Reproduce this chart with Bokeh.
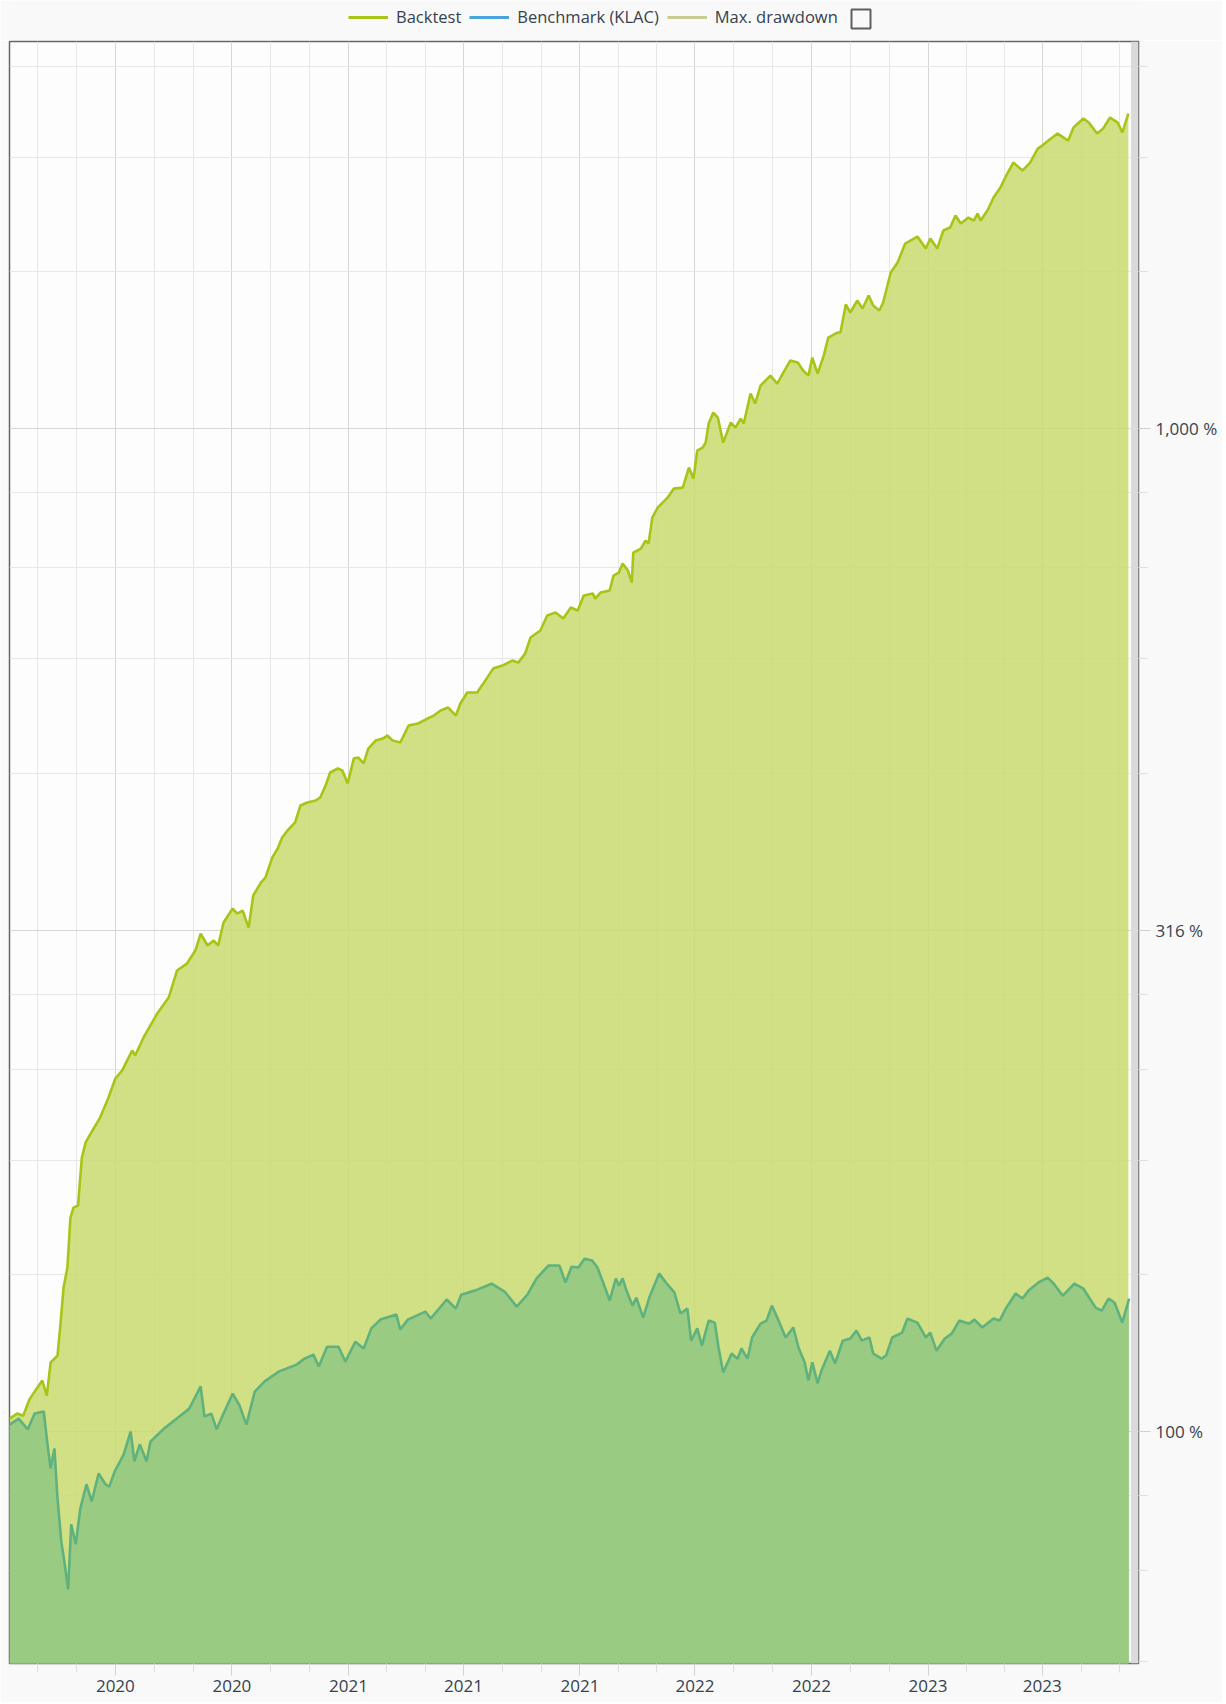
import pandas as pd
from bokeh.plotting import figure
from bokeh.layouts import column
from bokeh.models import (Range1d, FixedTicker, DatetimeTickFormatter, CustomJSTickFormatter,
                          Legend, LegendItem, BoxAnnotation, ColumnDataSource)
from bokeh.embed import file_html
from bokeh.resources import INLINE

# ---------------- data ----------------
START = pd.Timestamp("2019-10-14")   # first day shown; day offsets below count from here

bt_days = [0, 10, 18, 26, 34, 43, 49, 54, 63, 67,
           71, 76, 80, 84, 90, 95, 100, 109, 119, 130,
           139, 148, 161, 165, 176, 194, 209, 220, 233, 244,
           251, 260, 268, 274, 281, 293, 299, 306, 314, 320,
           330, 336, 345, 352, 358, 365, 375, 382, 391, 402,
           408, 415, 421, 431, 437, 444, 452, 458, 465, 471,
           481, 490, 496, 503, 513, 524, 536, 549, 557, 566,
           576, 586, 592, 601, 614, 622, 635, 647, 660, 668,
           677, 684, 697, 706, 717, 727, 737, 746, 754, 766,
           769, 776, 788, 793, 800, 805, 812, 817, 819, 829,
           835, 839, 844, 851, 864, 872, 884, 892, 898, 903,
           910, 914, 918, 924, 930, 937, 947, 953, 960, 964,
           973, 979, 986, 999, 1008, 1016, 1025, 1035, 1042, 1049,
           1054, 1061, 1069, 1075, 1087, 1091, 1098, 1104, 1113, 1120,
           1128, 1134, 1142, 1147, 1157, 1166, 1176, 1192, 1203, 1209,
           1218, 1226, 1235, 1242, 1249, 1259, 1266, 1271, 1275, 1284,
           1292, 1301, 1310, 1318, 1330, 1340, 1350, 1356, 1364, 1376,
           1384, 1390, 1397, 1410, 1417, 1428, 1436, 1445, 1455, 1461, 1469]

bt_values = [103.0, 104.2, 103.7, 107.6, 109.9, 112.4, 108.6, 117.2, 119.0, 128.1,
             139.2, 145.7, 163.4, 167.2, 168.0, 187.6, 194.2, 199.6, 205.6, 215.3,
             224.9, 229.1, 239.8, 237.1, 247.1, 261.1, 270.8, 288.2, 292.8, 301.7,
             313.7, 305.2, 308.7, 305.2, 321.7, 332.2, 328.4, 330.7, 318.0, 342.3,
             352.6, 356.7, 373.4, 381.2, 391.0, 397.4, 404.8, 420.9, 423.8, 425.7,
             428.7, 440.6, 454.0, 458.2, 456.1, 442.7, 468.8, 469.9, 463.5, 479.7,
             488.6, 490.8, 494.2, 488.6, 486.3, 505.7, 508.0, 513.9, 517.4, 523.4,
             527.0, 517.4, 531.9, 545.5, 545.5, 556.8, 576.3, 580.3, 587.0, 584.3,
             596.5, 618.9, 629.0, 651.0, 655.5, 646.5, 663.0, 658.5, 681.5, 684.6,
             676.8, 686.2, 689.4, 713.5, 718.4, 733.4, 721.8, 702.2, 752.2, 759.1,
             773.2, 767.9, 815.0, 834.0, 853.3, 871.1, 873.1, 914.2, 891.4, 950.6,
             957.1, 968.2, 1011.5, 1037.4, 1025.6, 968.2, 1013.9, 1002.3, 1023.2, 1011.5,
             1083.6, 1059.0, 1103.7, 1129.3, 1108.8, 1137.1, 1168.9, 1163.6, 1142.4, 1129.3,
             1177.0, 1134.5, 1182.4, 1232.3, 1246.5, 1246.5, 1329.4, 1305.2, 1341.6, 1317.2,
             1357.1, 1326.3, 1311.2, 1335.5, 1430.7, 1463.9, 1529.1, 1553.9, 1511.6, 1546.7,
             1511.6, 1575.5, 1586.4, 1630.7, 1601.0, 1623.2, 1612.0, 1638.2, 1612.0, 1649.5,
             1699.4, 1738.9, 1795.8, 1841.6, 1808.2, 1841.6, 1901.7, 1914.8, 1936.9, 1968.3,
             1950.3, 1936.9, 1995.7, 2037.4, 2018.8, 1968.3, 1991.1, 2042.1, 2018.8, 1972.9, 2060.9]

bm_days = [0, 12, 24, 33, 45, 49, 54, 59, 63, 68,
           72, 77, 81, 87, 93, 101, 108, 117, 126, 131,
           138, 150, 159, 164, 171, 180, 185, 203, 223, 236,
           251, 256, 265, 272, 281, 293, 302, 311, 322, 335,
           354, 377, 387, 399, 406, 417, 432, 441, 454, 465,
           475, 487, 508, 513, 523, 546, 553, 574, 586, 593,
           614, 633, 650, 666, 680, 692, 704, 708, 722, 730,
           738, 747, 755, 765, 772, 780, 788, 796, 800, 805,
           810, 818, 823, 832, 840, 853, 863, 873, 881, 890,
           895, 903, 909, 918, 926, 931, 937, 944, 948, 956,
           961, 969, 975, 986, 994, 1001, 1008, 1019, 1029, 1036,
           1044, 1049, 1054, 1061, 1066, 1077, 1084, 1094, 1104, 1112,
           1119, 1129, 1134, 1145, 1151, 1159, 1172, 1179, 1192, 1203,
           1209, 1217, 1228, 1237, 1247, 1260, 1267, 1277, 1292, 1300,
           1308, 1321, 1330, 1338, 1351, 1363, 1371, 1383, 1398, 1410,
           1426, 1434, 1443, 1451, 1461, 1470]

bm_values = [101.6, 103.0, 100.5, 104.2, 104.7, 98.4, 91.9, 96.2, 85.8, 77.7,
             74.2, 69.6, 80.8, 77.2, 83.8, 88.6, 85.2, 90.8, 88.6, 88.1,
             91.2, 94.9, 100.0, 93.4, 97.1, 93.4, 97.7, 100.7, 103.5, 105.4,
             110.9, 103.5, 104.2, 100.5, 104.2, 109.1, 106.2, 101.6, 109.6, 112.2,
             114.8, 116.6, 118.2, 119.3, 116.1, 121.5, 121.5, 117.4, 122.9, 121.0,
             126.7, 129.3, 130.8, 126.4, 129.3, 131.7, 129.6, 135.4, 132.6, 136.9,
             138.5, 140.4, 137.9, 133.2, 136.9, 142.1, 145.4, 146.4, 146.4, 140.8,
             146.0, 145.7, 148.7, 148.1, 145.7, 140.4, 135.1, 142.1, 139.8, 142.1,
             138.2, 133.5, 136.0, 129.9, 136.0, 143.7, 140.4, 137.6, 131.1, 132.6,
             123.2, 126.7, 121.8, 129.0, 128.4, 121.2, 114.5, 117.7, 119.6, 118.2,
             121.0, 118.2, 124.1, 128.1, 129.0, 133.5, 129.9, 124.1, 127.0, 121.2,
             117.2, 112.4, 117.2, 111.7, 115.0, 120.4, 116.9, 123.2, 123.8, 126.1,
             123.2, 124.1, 119.6, 118.2, 119.1, 124.1, 125.5, 129.6, 128.4, 124.1,
             125.5, 120.4, 123.8, 125.2, 129.0, 128.1, 129.3, 127.0, 129.6, 129.0,
             132.6, 137.3, 135.7, 138.2, 140.8, 142.4, 140.4, 136.6, 140.4, 138.8,
             132.9, 132.0, 135.7, 134.4, 128.4, 135.7]

x_major_dates = ["2020-03-01", "2020-08-01", "2021-01-01", "2021-06-01", "2021-11-01",
                 "2022-04-01", "2022-09-01", "2023-02-01", "2023-07-01"]
y_major_ticks = [31.6228, 100.0, 316.228, 1000.0, 3162.28]
legend_labels = ["Backtest", "Benchmark (KLAC)", "Max. drawdown"]

# ---------------- styling ----------------
TEXT = "#36424f"
FONT = "Open Sans"
PAGE_BG = "#f9f9f9"
W = 1222
BORDER_L, BORDER_R = 9, 84

bt_dates = START + pd.to_timedelta(bt_days, unit="D")
bm_dates = START + pd.to_timedelta(bm_days, unit="D")


def ms(ts):
    return pd.Timestamp(ts).value / 1e6


x_end = START + pd.Timedelta(hours=1482.3 * 24)

p = figure(width=W, height=1662, x_axis_type="datetime", y_axis_type="log",
           x_range=Range1d(START, x_end), y_range=Range1d(58.71, 2431.6),
           y_axis_location="right", output_backend="svg", toolbar_location=None,
           min_border_left=BORDER_L, min_border_right=BORDER_R, min_border_top=1,
           min_border_bottom=39,
           background_fill_color="#fdfdfd", border_fill_color=PAGE_BG)
p.outline_line_color = "#666666"
p.outline_line_width = 1.5

# x ticks: labelled majors, two minors between each
maj = pd.to_datetime(x_major_dates)
step = maj[1] - maj[0]
minor = [maj[0] - 2 * step / 3, maj[0] - step / 3]
for a, b in zip(maj[:-1], maj[1:]):
    minor += [a + (b - a) / 3, a + 2 * (b - a) / 3]
minor += [maj[-1] + step / 3, maj[-1] + 2 * step / 3]
p.xaxis.ticker = FixedTicker(ticks=[ms(t) for t in maj], minor_ticks=[ms(t) for t in minor])
fmt = "%Y"
p.xaxis.formatter = DatetimeTickFormatter(microseconds=fmt, milliseconds=fmt, seconds=fmt,
                                          minsec=fmt, minutes=fmt, hourmin=fmt, hours=fmt,
                                          days=fmt, months=fmt, years=fmt)

# y ticks: log majors at half decades, 4 linear minors between
yminor = []
for a, b in zip(y_major_ticks[:-1], y_major_ticks[1:]):
    yminor += [a + (b - a) * k / 5 for k in range(1, 5)]
p.yaxis.ticker = FixedTicker(ticks=y_major_ticks, minor_ticks=yminor)
p.yaxis.formatter = CustomJSTickFormatter(
    code="return Math.round(tick).toLocaleString('en-US') + ' %';")

for ax in (p.xaxis[0], p.yaxis[0]):
    ax.axis_line_color = None
    ax.major_tick_line_color = "#d0d0d0"
    ax.minor_tick_line_color = "#dedede"
    ax.major_tick_in = 0
    ax.minor_tick_in = 0
    ax.major_label_text_font = FONT
    ax.major_label_text_font_size = "17px"
    ax.major_label_text_color = TEXT
p.xaxis.major_tick_out = 12
p.xaxis.minor_tick_out = 9
p.xaxis.major_label_standoff = 4
p.yaxis.major_tick_out = 12
p.yaxis.minor_tick_out = 9
p.yaxis.major_label_standoff = 5

for g in (p.xgrid[0], p.ygrid[0]):
    g.grid_line_color = "#d6d6d6"
    g.minor_grid_line_color = "#e7e7e7"

# ---------------- series ----------------
src_bt = ColumnDataSource(dict(x=bt_dates, y=bt_values, base=[1.0] * len(bt_values)))
src_bm = ColumnDataSource(dict(x=bm_dates, y=bm_values, base=[1.0] * len(bm_values)))

p.varea(x="x", y1="base", y2="y", source=src_bt, fill_color="#cadb70", fill_alpha=0.85)
p.varea(x="x", y1="base", y2="y", source=src_bm, fill_color="#91c781", fill_alpha=0.85)
p.line(x="x", y="y", source=src_bm, line_color="#5fb27e", line_width=2.6)
p.line(x="x", y="y", source=src_bt, line_color="#a6c516", line_width=2.6)

# grey strip after the last data point
p.add_layout(BoxAnnotation(left=ms(bt_dates[-1]) + 3.5 * 86400000, fill_color="#dadada",
                           fill_alpha=1.0, line_color=None))

# ---------------- legend strip above the chart ----------------
# its frame lines up with the chart frame, so x data units equal page pixels here
LH = 40
lf = figure(width=W, height=LH, x_range=Range1d(BORDER_L, W - BORDER_R), y_range=Range1d(0, LH),
            x_axis_location=None, y_axis_location=None, output_backend="svg",
            toolbar_location=None, min_border_left=BORDER_L, min_border_right=BORDER_R,
            min_border_top=0, min_border_bottom=0, outline_line_color=None,
            background_fill_color=PAGE_BG, border_fill_color=PAGE_BG)
lf.grid.visible = False

# legend sample renderers (their single segment lies outside the visible range)
off_x, off_y = [-60, -50], [-20, -20]
r_bt_leg = lf.line(x=off_x, y=off_y, line_color="#a6c516", line_width=3)
r_bm_leg = lf.line(x=off_x, y=off_y, line_color="#4da3e0", line_width=3)
r_dd_leg = lf.line(x=off_x, y=off_y, line_color="#c8cc92", line_width=3)

leg = Legend(items=[LegendItem(label=legend_labels[0], renderers=[r_bt_leg]),
                    LegendItem(label=legend_labels[1], renderers=[r_bm_leg]),
                    LegendItem(label=legend_labels[2], renderers=[r_dd_leg])],
             orientation="horizontal", location=(348 - BORDER_L, 12),
             glyph_width=40, glyph_height=22, label_standoff=8, spacing=8,
             padding=0, margin=0, border_line_color=None, background_fill_alpha=0,
             label_text_font=FONT, label_text_font_size="16.5px", label_text_color=TEXT,
             label_height=22)
lf.add_layout(leg)

# the small show/hide check box after the legend
lf.rect(x=[860.5], y=[LH - 18.5], width=[19], height=[19], fill_color=None,
        line_color="#5f5f5f", line_width=2)

layout = column(lf, p, spacing=0)
open("out.html", "w").write(file_html(layout, INLINE))
